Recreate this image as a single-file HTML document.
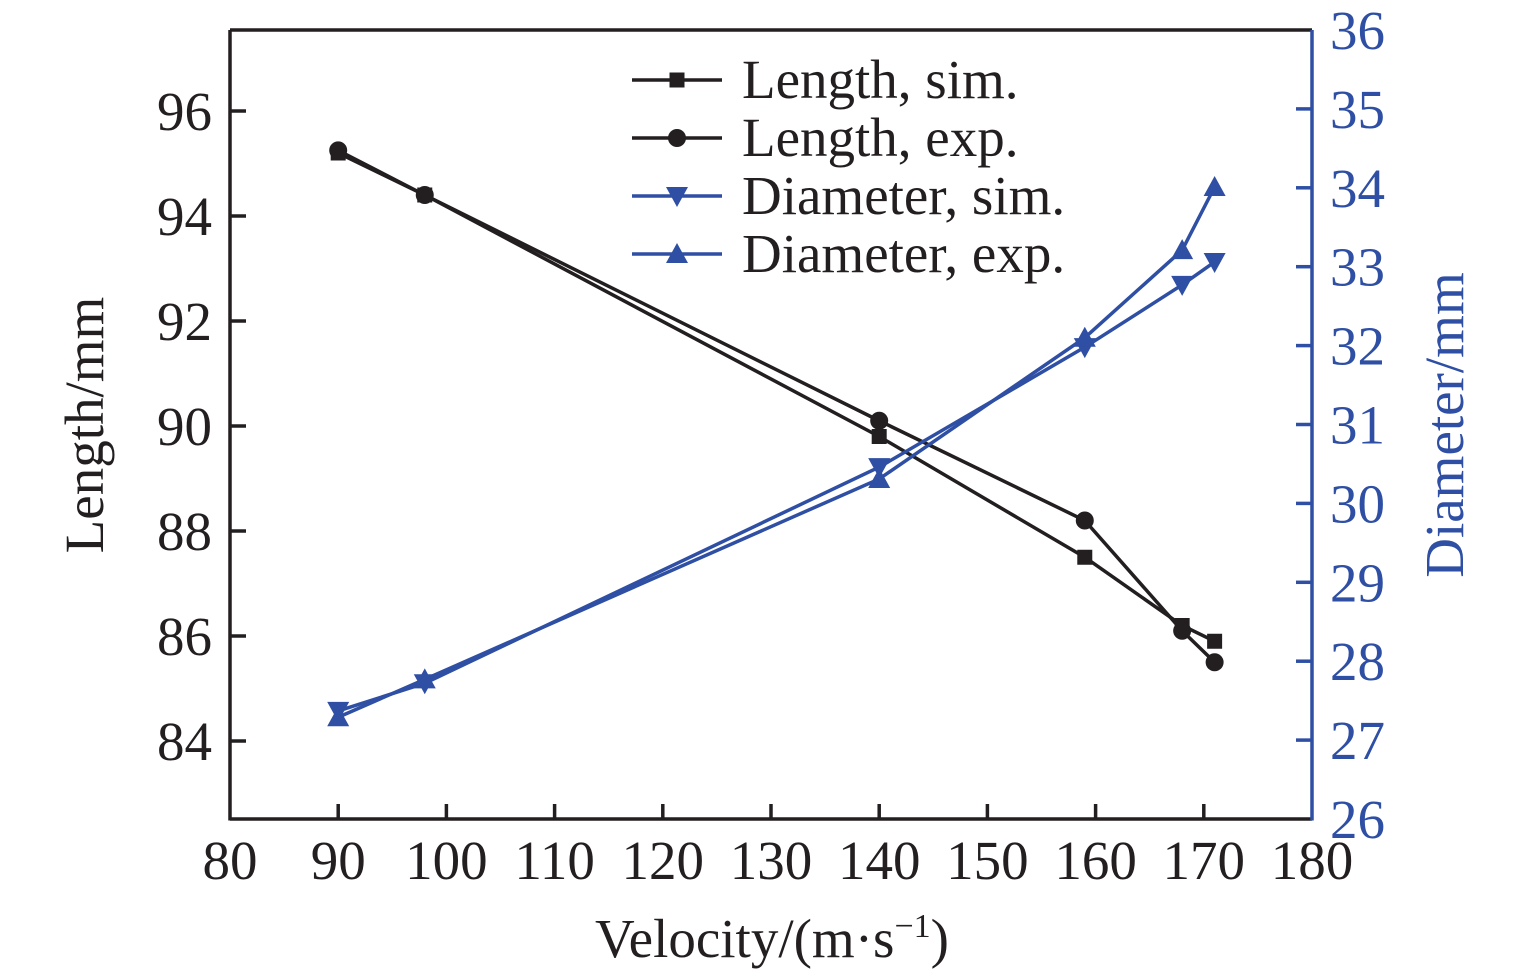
<!DOCTYPE html>
<html><head><meta charset="utf-8"><style>
html,body{margin:0;padding:0;background:#fff;}
svg{display:block;font-family:"Liberation Serif",serif;}
</style></head><body>
<svg id="chart" width="1535" height="974" viewBox="0 0 1535 974" xmlns="http://www.w3.org/2000/svg"></svg>
<script>
const velocities = [90, 98, 140, 159, 168, 171];
const lengthSim = [95.2, 94.4, 89.8, 87.5, 86.2, 85.9];
const lengthExp = [95.25, 94.4, 90.1, 88.2, 86.1, 85.5];
const diameterSim = [27.37, 27.72, 30.46, 31.98, 32.77, 33.06];
const diameterExp = [27.29, 27.77, 30.31, 32.1, 33.21, 34.01];
const xTicks = [80, 90, 100, 110, 120, 130, 140, 150, 160, 170, 180];
const yLeftTicks = [84, 86, 88, 90, 92, 94, 96];
const yRightTicks = [26, 27, 28, 29, 30, 31, 32, 33, 34, 35, 36];

const NS = "http://www.w3.org/2000/svg";
const svg = document.getElementById('chart');
const L = 230, R = 1312, T = 30, B = 819;
const BLACK = "#231f20", BLUE = "#2e4fa3";
const FS = 55;
const xS = v => L + (v - 80) / 100 * (R - L);
const yL = v => 741 - (v - 84) * 52.5;
const yR = v => B - (v - 26) / 10 * (B - T);

function mk(tag, attrs, parent) {
  const e = document.createElementNS(NS, tag);
  for (const k in attrs) e.setAttribute(k, attrs[k]);
  (parent || svg).appendChild(e);
  return e;
}

let e = mk('line', {x1: L, y1: T, x2: R, y2: T, stroke: BLACK, 'stroke-width': 3.5});


e = mk('line', {x1: L, y1: T, x2: L, y2: B + 1.5, stroke: BLACK, 'stroke-width': 3.5});


e = mk('line', {x1: L, y1: B, x2: R, y2: B, stroke: BLACK, 'stroke-width': 3.5});


e = mk('line', {x1: R, y1: T, x2: R, y2: B + 1.5, stroke: BLUE, 'stroke-width': 3.5});



xTicks.forEach(v => {
  const x = xS(v);
  if (v > 80 && v < 180) mk('line', {x1: x, y1: B, x2: x, y2: B - 15, stroke: BLACK, 'stroke-width': 3.5});
  const t = mk('text', {x: x, y: 879, 'text-anchor': 'middle', 'font-size': FS, fill: BLACK});
  t.textContent = v;
  
  
});
yLeftTicks.forEach(v => {
  const y = yL(v);
  mk('line', {x1: L, y1: y, x2: L + 16, y2: y, stroke: BLACK, 'stroke-width': 3.5});
  const t = mk('text', {x: 212, y: y + 19, 'text-anchor': 'end', 'font-size': FS, fill: BLACK});
  t.textContent = v;
  
  
});
yRightTicks.forEach(v => {
  const y = yR(v);
  if (v > 26 && v < 36) mk('line', {x1: R, y1: y, x2: R - 16, y2: y, stroke: BLUE, 'stroke-width': 3.5});
  const t = mk('text', {x: 1330, y: y + 19, 'font-size': FS, fill: BLUE});
  t.textContent = v;
  
  
});

e = mk('text', {x: 772, y: 957, 'text-anchor': 'middle', 'font-size': FS, fill: BLACK});
e.innerHTML = 'Velocity/(m·s<tspan dy="-20" font-size="34">−1</tspan><tspan dy="20">)</tspan>';


e = mk('text', {x: 0, y: 0, 'text-anchor': 'middle', 'font-size': FS, fill: BLACK, transform: 'translate(103,425) rotate(-90)'});
e.textContent = 'Length/mm';


e = mk('text', {x: 0, y: 0, 'text-anchor': 'middle', 'font-size': FS, fill: BLUE, transform: 'translate(1463,425) rotate(-90)'});
e.textContent = 'Diameter/mm';



function marker(g, type, x, y, color) {
  if (type === 'square') return mk('rect', {x: x - 7.5, y: y - 7.5, width: 15, height: 15, fill: color}, g);
  if (type === 'circle') return mk('circle', {cx: x, cy: y, r: 9, fill: color}, g);
  if (type === 'down') return mk('polygon', {points: `${x-11},${y-9} ${x+11},${y-9} ${x},${y+11}`, fill: color}, g);
  return mk('polygon', {points: `${x-11},${y+9} ${x+11},${y+9} ${x},${y-11}`, fill: color}, g);
}

const series = [
  {name: 'length-sim', vals: lengthSim, y: yL, color: BLACK, m: 'square', label: 'Length, sim.'},
  {name: 'length-exp', vals: lengthExp, y: yL, color: BLACK, m: 'circle', label: 'Length, exp.'},
  {name: 'diameter-sim', vals: diameterSim, y: yR, color: BLUE, m: 'down', label: 'Diameter, sim.'},
  {name: 'diameter-exp', vals: diameterExp, y: yR, color: BLUE, m: 'up', label: 'Diameter, exp.'}
];
series.forEach((s, i) => {
  const g = mk('g', {});
  
  
  const pts = s.vals.map((v, j) => xS(velocities[j]) + ',' + s.y(v)).join(' ');
  const pl = mk('polyline', {points: pts, fill: 'none', stroke: s.color, 'stroke-width': 3.5}, g);
  
  
  s.vals.forEach((v, j) => {
    const m = marker(g, s.m, xS(velocities[j]), s.y(v), s.color);
    
    
  });
  const ly = 80 + i * 58;
  const lg = mk('g', {});
  
  
  mk('line', {x1: 632, y1: ly, x2: 722, y2: ly, stroke: s.color, 'stroke-width': 3.5}, lg);
  marker(lg, s.m, 677, ly, s.color);
  const t = mk('text', {x: 742, y: ly + 18, 'font-size': FS, fill: BLACK}, lg);
  t.textContent = s.label;
});
</script>
</body></html>
